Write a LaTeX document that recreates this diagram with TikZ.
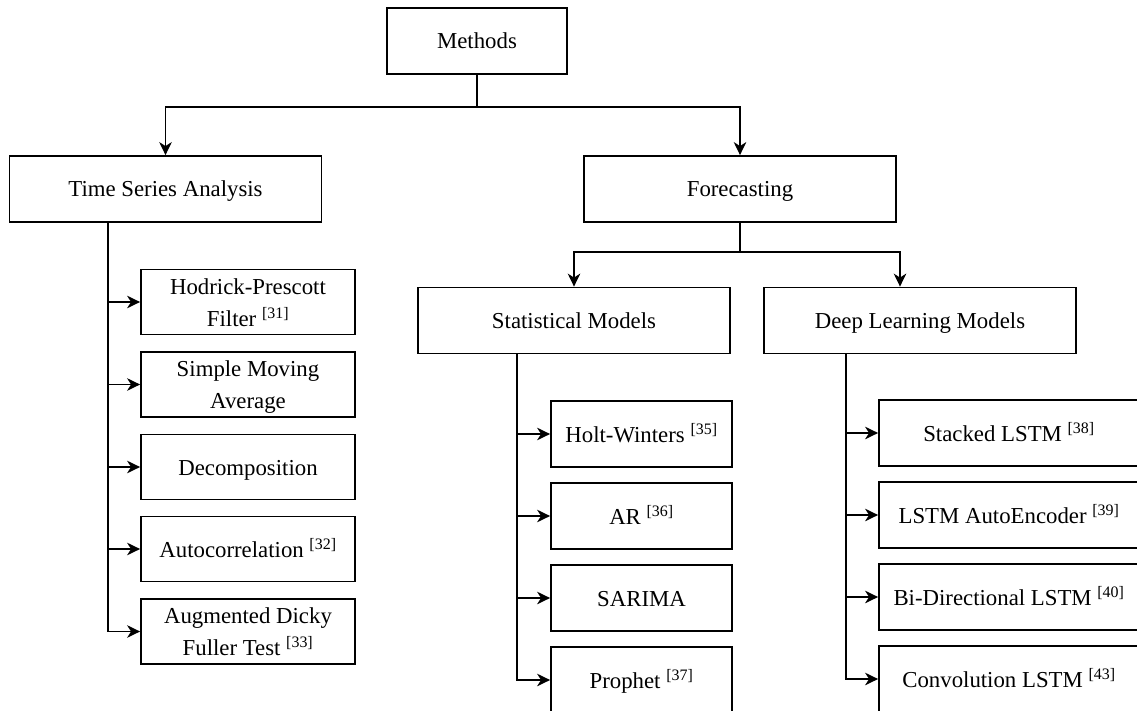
\documentclass[tikz,border=0pt]{standalone}
\usepackage{fontspec}
\setmainfont{Liberation Serif}
\usetikzlibrary{arrows.meta}
\newcommand{\boxstrut}{\rule[-8pt]{0pt}{32pt}}
\newcommand{\twol}[2]{\boxstrut#1\\#2}
\begin{document}
\begin{tikzpicture}[x=1pt,y=-1pt,
  box/.style={draw,line width=1.8pt,inner sep=0pt,align=center,minimum height=66pt,
    font=\fontsize{22.8}{32}\selectfont,execute at begin node=\boxstrut,execute at end node=\boxstrut},
  topbox/.style={box,minimum width=312pt},
  tsbox/.style={box,minimum width=214pt,minimum height=65pt},
  stbox/.style={box,minimum width=181pt},
  dlbox/.style={box,minimum width=260pt},
  conn/.style={line width=1.8pt},
  arr/.style={conn,-{Stealth[length=13pt,width=12.5pt,inset=4pt]}}]
\useasboundingbox (0,0) rectangle (1137,711);
\node[box,minimum width=180pt] (methods) at (477,41) {Methods};
\node[topbox] (tsa) at (165.5,189) {Time Series Analysis};
\node[topbox] (fc) at (740,189) {Forecasting};
\node[topbox] (sm) at (574,320.5) {Statistical Models};
\node[topbox] (dl) at (920,320.5) {Deep Learning Models};
% time series children
\node[tsbox] (hp) at (248,302) {\twol{Hodrick-Prescott}{Filter \textsuperscript{[31]}}};
\node[tsbox] (sma) at (248,384.5) {\twol{Simple Moving}{Average}};
\node[tsbox] (dec) at (248,467) {Decomposition};
\node[tsbox] (ac) at (248,549) {Autocorrelation \textsuperscript{[32]}};
\node[tsbox] (adf) at (248,631.5) {\twol{Augmented Dicky}{Fuller Test \textsuperscript{[33]}}};
% statistical children
\node[stbox] (hw) at (641.5,434) {Holt-Winters \textsuperscript{[35]}};
\node[stbox] (ar) at (641.5,516) {AR \textsuperscript{[36]}};
\node[stbox] (sar) at (641.5,598) {SARIMA};
\node[stbox] (pro) at (641.5,680) {Prophet \textsuperscript{[37]}};
% deep learning children
\node[dlbox] (slstm) at (1009,433) {Stacked LSTM \textsuperscript{[38]}};
\node[dlbox] (ae) at (1009,515) {LSTM AutoEncoder \textsuperscript{[39]}};
\node[dlbox] (bi) at (1009,597) {Bi-Directional LSTM \textsuperscript{[40]}};
\node[dlbox] (conv) at (1009,679) {Convolution LSTM \textsuperscript{[43]}};
% connectors
\coordinate (mj) at (477,107);
\draw[conn] (methods.south) -- (mj);
\draw[arr] (mj) -| (tsa.north);
\draw[arr] (mj) -| (fc.north);
\coordinate (fj) at (740,252);
\draw[conn] (fc.south) -- (fj);
\draw[arr] (fj) -| (sm.north);
\draw[arr] (fj) -| ([xshift=-20pt]dl.north);
\coordinate (ts) at ([xshift=99pt]tsa.south west);
\foreach \c in {hp,sma,dec,ac,adf} \draw[arr] (ts) |- (\c.west);
\coordinate (ss) at ([xshift=100pt]sm.south west);
\foreach \c in {hw,ar,sar,pro} \draw[arr] (ss) |- (\c.west);
\coordinate (ds) at ([xshift=83pt]dl.south west);
\foreach \c in {slstm,ae,bi,conv} \draw[arr] (ds) |- (\c.west);
\end{tikzpicture}
\end{document}
